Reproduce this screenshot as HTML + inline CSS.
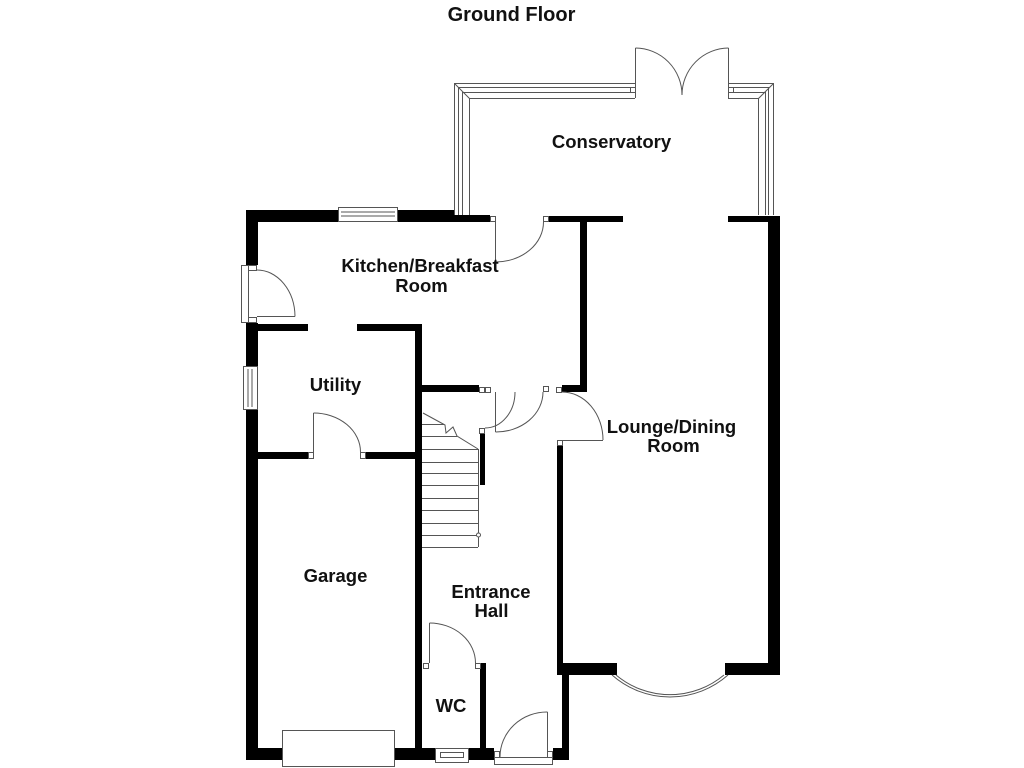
<!DOCTYPE html>
<html><head><meta charset="utf-8"><style>
html,body{margin:0;padding:0;background:#fff;}
svg{display:block;}
text{font-family:"Liberation Sans",Arial,sans-serif;font-weight:bold;fill:#111;text-anchor:middle;}
</style></head><body>
<svg width="1024" height="768" viewBox="0 0 1024 768" xmlns="http://www.w3.org/2000/svg">
<rect width="1024" height="768" fill="#fff"/>
<g fill="#000">
<!-- left outer wall -->
<rect x="246" y="210" width="12" height="55"/>
<rect x="246" y="323" width="12" height="43"/>
<rect x="246" y="410" width="12" height="350"/>
<!-- kitchen top -->
<rect x="246" y="210" width="92" height="12"/>
<rect x="398" y="210" width="57" height="12"/>
<rect x="455" y="215" width="35" height="7"/>
<rect x="548" y="216" width="75" height="6"/>
<rect x="580" y="216" width="7" height="176"/>
<rect x="562" y="385" width="25" height="7"/>
<rect x="420" y="385" width="59" height="7"/>
<!-- hall/garage wall -->
<rect x="415" y="325" width="7" height="435"/>
<!-- kitchen/utility -->
<rect x="258" y="324" width="50" height="7"/>
<rect x="357" y="324" width="65" height="7"/>
<!-- utility/garage -->
<rect x="258" y="452" width="50" height="7"/>
<rect x="366" y="452" width="51" height="7"/>
<!-- bottom wall -->
<rect x="246" y="748" width="36" height="12"/>
<rect x="395" y="748" width="40" height="12"/>
<rect x="469" y="748" width="25" height="12"/>
<rect x="553" y="748" width="16" height="12"/>
<!-- WC right wall -->
<rect x="480" y="663" width="6" height="97"/>
<!-- hall right wall -->
<rect x="557" y="445" width="6" height="230"/>
<rect x="562" y="663" width="7" height="97"/>
<!-- lounge -->
<rect x="562" y="663" width="55" height="12"/>
<rect x="725" y="663" width="55" height="12"/>
<rect x="768" y="216" width="12" height="459"/>
<rect x="728" y="216" width="52" height="6"/>
<!-- stair stub -->
<rect x="480" y="434" width="5" height="51"/>
</g>

<g fill="#fff" stroke="#555" stroke-width="1">
<!-- kitchen top window -->
<rect x="338.5" y="207.5" width="59" height="14"/>
<line x1="341" y1="212" x2="395" y2="212"/>
<line x1="341" y1="216" x2="395" y2="216"/>
<!-- utility window -->
<rect x="243.5" y="366.5" width="14" height="43"/>
<line x1="248" y1="369" x2="248" y2="407"/>
<line x1="252" y1="369" x2="252" y2="407"/>
<!-- kitchen side door -->
<rect x="241.5" y="265.5" width="7" height="57"/>
<rect x="248.5" y="265.5" width="8" height="5"/>
<rect x="248.5" y="317.5" width="8" height="5"/>
<!-- garage door -->
<rect x="282.5" y="730.5" width="112" height="36"/>
<!-- WC window -->
<rect x="435.5" y="748.5" width="33" height="14"/>
<rect x="440.5" y="752.5" width="23" height="5"/>
<!-- front door frame -->
<rect x="494.5" y="757.5" width="58" height="7"/>
<rect x="494.5" y="751.5" width="5" height="6"/>
<rect x="547.5" y="751.5" width="5" height="6"/>
<!-- squares -->
<rect x="490.5" y="216.5" width="5" height="5"/>
<rect x="543.5" y="216.5" width="5" height="5"/>
<rect x="479.5" y="387.5" width="5" height="5"/>
<rect x="485.5" y="387.5" width="5" height="5"/>
<rect x="543.5" y="386.5" width="5" height="5"/>
<rect x="556.5" y="387.5" width="5" height="5"/>
<rect x="479.5" y="428.5" width="5" height="5"/>
<rect x="557.5" y="440.5" width="5" height="5"/>
<rect x="308.5" y="452.5" width="5" height="6"/>
<rect x="360.5" y="452.5" width="5" height="6"/>
<rect x="423.5" y="663.5" width="5" height="5"/>
<rect x="475.5" y="663.5" width="5" height="5"/>
<rect x="630.5" y="87.5" width="5" height="5"/>
<rect x="728.5" y="87.5" width="5" height="5"/>
</g>

<g fill="none" stroke="#555" stroke-width="1">
<!-- conservatory frame left/top -->
<path d="M454.5,215 V83.5 H635"/>
<path d="M458.5,215 V87.5 H631"/>
<path d="M462.5,215 V92.5 H631"/>
<path d="M469.5,215 V98.5 H635"/>
<line x1="454.5" y1="83.5" x2="469.5" y2="98.5"/>
<!-- conservatory frame right -->
<path d="M773.5,215 V83.5 H728"/>
<path d="M768.5,215 V87.5 H733"/>
<path d="M765.5,215 V92.5 H733"/>
<path d="M758.5,215 V98.5 H728"/>
<line x1="773.5" y1="83.5" x2="758.5" y2="98.5"/>
<!-- conservatory french doors -->
<line x1="635.5" y1="48" x2="635.5" y2="98"/>
<line x1="728.5" y1="48" x2="728.5" y2="98"/>
<path d="M635.5,48 A47,47 0 0 1 682,95"/>
<path d="M728.5,48 A47,47 0 0 0 682,95"/>
<!-- kitchen top door -->
<line x1="495.5" y1="222" x2="495.5" y2="262"/>
<path d="M495.5,262 A48,40 0 0 0 543.5,222"/>
<!-- kitchen side door -->
<line x1="257" y1="316.5" x2="295" y2="316.5"/>
<path d="M257,270 A38,47 0 0 1 295,316.5"/>
<!-- cupboard door -->
<path d="M515,392 A30,36 0 0 1 485,428"/>
<!-- kitchen/hall door -->
<line x1="495.5" y1="392" x2="495.5" y2="432"/>
<path d="M543,392 A47,40 0 0 1 495.5,432"/>
<!-- lounge door -->
<path d="M562,392 A41,48 0 0 1 603,440"/>
<line x1="562" y1="440.5" x2="603" y2="440.5"/>
<!-- utility door -->
<line x1="313.5" y1="413" x2="313.5" y2="452"/>
<path d="M313.5,413 A47,39 0 0 1 360.5,452"/>
<!-- WC door -->
<line x1="429.5" y1="623" x2="429.5" y2="663"/>
<path d="M429.5,623 A46,40 0 0 1 475.5,663"/>
<!-- front door -->
<line x1="547.5" y1="712" x2="547.5" y2="757"/>
<path d="M547.5,712 A47,45 0 0 0 500,757"/>
<!-- bay window -->
<path d="M612,675 A87.5,87.5 0 0 0 728,675"/>
<path d="M616,675 A84,84 0 0 0 724,675"/>
<!-- stairs -->
<polyline points="423,413 445,425 446,433 453,427 457,436 478,449"/>
<line x1="422" y1="424.5" x2="444" y2="424.5"/>
<line x1="422" y1="436.5" x2="457" y2="436.5"/>
<line x1="422" y1="449.5" x2="478" y2="449.5"/>
<line x1="422" y1="462.5" x2="478" y2="462.5"/>
<line x1="422" y1="473.5" x2="478" y2="473.5"/>
<line x1="422" y1="485.5" x2="478" y2="485.5"/>
<line x1="422" y1="498.5" x2="478" y2="498.5"/>
<line x1="422" y1="510.5" x2="478" y2="510.5"/>
<line x1="422" y1="523.5" x2="478" y2="523.5"/>
<line x1="422" y1="535.5" x2="478" y2="535.5"/>
<line x1="422" y1="547.5" x2="478" y2="547.5"/>
<line x1="478.5" y1="449" x2="478.5" y2="547"/>
<circle cx="478.5" cy="535" r="2" fill="#fff"/>
</g>

<text x="511.5" y="21" font-size="20">Ground Floor</text>
<text x="611.5" y="148" font-size="18.5">Conservatory</text>
<text x="420" y="272" font-size="18.5">Kitchen/Breakfast</text>
<text x="421.5" y="292" font-size="18.5">Room</text>
<text x="335.5" y="391" font-size="18.5">Utility</text>
<text x="671.5" y="433" font-size="18.5">Lounge/Dining</text>
<text x="673.5" y="452" font-size="18.5">Room</text>
<text x="335.5" y="582" font-size="18.5">Garage</text>
<text x="491" y="598" font-size="18.5">Entrance</text>
<text x="491.5" y="617" font-size="18.5">Hall</text>
<text x="451" y="712" font-size="18.5">WC</text>
</svg>
</body></html>
